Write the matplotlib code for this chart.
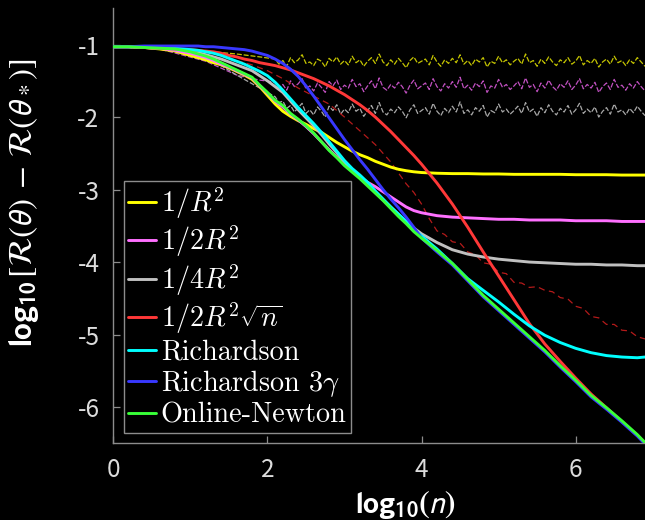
import numpy as np
import matplotlib
matplotlib.use("Agg")
import matplotlib.pyplot as plt
from matplotlib.font_manager import FontProperties

# ---------------- data ----------------
log_n = [0.0, 0.2, 0.4, 0.6, 0.8,
         1.0, 1.1, 1.2, 1.3, 1.4, 1.5, 1.6, 1.7, 1.8, 1.9,
         2.0, 2.1, 2.2, 2.3, 2.4, 2.5, 2.6, 2.7, 2.8, 2.9,
         3.0, 3.1, 3.2, 3.3, 3.4, 3.5, 3.6, 3.7, 3.8, 3.9,
         4.0, 4.2, 4.4, 4.6, 4.8, 5.0, 5.2, 5.4, 5.6, 5.8,
         6.0, 6.2, 6.4, 6.6, 6.8, 6.9]

y_inv_R2 = [-1.03, -1.03, -1.04, -1.06, -1.09,
            -1.15, -1.18, -1.21, -1.25, -1.28, -1.32, -1.37, -1.42, -1.48, -1.58,
            -1.70, -1.82, -1.92, -1.99, -2.05, -2.10, -2.16, -2.21, -2.28, -2.35,
            -2.41, -2.47, -2.52, -2.56, -2.61, -2.65, -2.69, -2.72, -2.74, -2.755,
            -2.765, -2.775, -2.78, -2.78, -2.785, -2.785, -2.79, -2.79, -2.79, -2.79,
            -2.795, -2.795, -2.795, -2.80, -2.80, -2.80]

y_half_R2 = [-1.03, -1.03, -1.04, -1.05, -1.08,
             -1.12, -1.15, -1.18, -1.22, -1.27, -1.31, -1.36, -1.41, -1.46, -1.57,
             -1.67, -1.78, -1.86, -1.96, -2.04, -2.13, -2.23, -2.34, -2.45, -2.55,
             -2.65, -2.74, -2.83, -2.90, -2.96, -3.03, -3.10, -3.17, -3.24, -3.29,
             -3.32, -3.36, -3.38, -3.39, -3.40, -3.41, -3.41, -3.42, -3.42, -3.42,
             -3.43, -3.43, -3.43, -3.44, -3.44, -3.44]

y_quarter_R2 = [-1.03, -1.03, -1.04, -1.05, -1.06,
                -1.09, -1.11, -1.14, -1.17, -1.20, -1.24, -1.28, -1.32, -1.36, -1.43,
                -1.50, -1.58, -1.66, -1.78, -1.90, -2.01, -2.12, -2.24, -2.37, -2.49,
                -2.62, -2.73, -2.83, -2.93, -3.04, -3.14, -3.24, -3.34, -3.44, -3.53,
                -3.61, -3.73, -3.83, -3.89, -3.93, -3.96, -3.98, -4.00, -4.01, -4.02,
                -4.03, -4.03, -4.04, -4.04, -4.05, -4.05]

y_half_R2_sqrt = [-1.03, -1.03, -1.04, -1.05, -1.06,
                  -1.07, -1.08, -1.09, -1.10, -1.12, -1.15, -1.17, -1.20, -1.22, -1.25,
                  -1.27, -1.29, -1.32, -1.35, -1.39, -1.43, -1.47, -1.52, -1.57, -1.63,
                  -1.69, -1.76, -1.83, -1.91, -2.00, -2.10, -2.20, -2.31, -2.42, -2.53,
                  -2.65, -2.91, -3.20, -3.52, -3.86, -4.19, -4.52, -4.85, -5.13, -5.37,
                  -5.60, -5.82, -6.01, -6.20, -6.39, -6.49]

y_richardson = [-1.03, -1.03, -1.03, -1.04, -1.05,
                -1.07, -1.08, -1.10, -1.12, -1.15, -1.19, -1.23, -1.27, -1.32, -1.37,
                -1.43, -1.52, -1.63, -1.75, -1.87, -1.98, -2.09, -2.21, -2.34, -2.47,
                -2.60, -2.71, -2.80, -2.90, -3.02, -3.13, -3.24, -3.34, -3.44, -3.55,
                -3.64, -3.82, -4.02, -4.23, -4.39, -4.55, -4.72, -4.88, -5.01, -5.11,
                -5.19, -5.25, -5.29, -5.31, -5.32, -5.31]

y_richardson_3g = [-1.03, -1.03, -1.02, -1.02, -1.02,
                   -1.02, -1.02, -1.03, -1.03, -1.04, -1.05, -1.06, -1.07, -1.09, -1.12,
                   -1.15, -1.20, -1.26, -1.34, -1.44, -1.57, -1.71, -1.86, -2.01, -2.16,
                   -2.31, -2.45, -2.59, -2.72, -2.86, -3.00, -3.13, -3.25, -3.38, -3.52,
                   -3.67, -3.86, -4.04, -4.26, -4.48, -4.67, -4.86, -5.05, -5.24, -5.45,
                   -5.65, -5.86, -6.03, -6.21, -6.40, -6.51]

y_online_newton = [-1.03, -1.03, -1.04, -1.05, -1.06,
                   -1.10, -1.13, -1.16, -1.20, -1.25, -1.30, -1.35, -1.40, -1.45, -1.56,
                   -1.66, -1.77, -1.84, -1.95, -2.03, -2.12, -2.22, -2.34, -2.46, -2.56,
                   -2.67, -2.76, -2.85, -2.95, -3.05, -3.15, -3.26, -3.37, -3.47, -3.58,
                   -3.67, -3.84, -4.02, -4.24, -4.46, -4.65, -4.84, -5.03, -5.22, -5.43,
                   -5.63, -5.84, -6.01, -6.19, -6.38, -6.49]

# noisy (non-averaged) traces
noisy_head_x = [0.0, 0.6, 1.2, 1.6, 1.9]
noisy_x = list(np.round(np.arange(2.10, 6.901, 0.05), 2))

noisy_inv_R2 = [-1.03, -1.05, -1.09, -1.13, -1.17,
    -1.20, -1.27, -1.22, -1.30, -1.18, -1.25, -1.21, -1.14, -1.26, -1.24,
    -1.29, -1.20, -1.23, -1.31, -1.19, -1.24, -1.17, -1.27, -1.22, -1.28,
    -1.16, -1.25, -1.21, -1.30, -1.23, -1.18, -1.26, -1.13, -1.24, -1.29,
    -1.21, -1.27, -1.19, -1.25, -1.32, -1.22, -1.17, -1.26, -1.23, -1.20,
    -1.28, -1.15, -1.24, -1.30, -1.21, -1.26, -1.19, -1.25, -1.14, -1.27,
    -1.22, -1.29, -1.20, -1.24, -1.18, -1.31, -1.23, -1.26, -1.16, -1.25,
    -1.21, -1.28, -1.23, -1.19, -1.27, -1.13, -1.25, -1.22, -1.30, -1.20,
    -1.26, -1.17, -1.24, -1.29, -1.21, -1.25, -1.18, -1.27, -1.23, -1.15,
    -1.28, -1.22, -1.26, -1.19, -1.31, -1.24, -1.20, -1.27, -1.16, -1.25,
    -1.22, -1.29, -1.21, -1.26, -1.18, -1.24, -1.30]

noisy_half_R2 = [-1.03, -1.06, -1.23, -1.42, -1.49,
    -1.52, -1.60, -1.55, -1.63, -1.50, -1.58, -1.54, -1.47, -1.61, -1.57,
    -1.64, -1.53, -1.59, -1.66, -1.51, -1.57, -1.49, -1.62, -1.56, -1.60,
    -1.48, -1.58, -1.54, -1.65, -1.57, -1.50, -1.61, -1.46, -1.59, -1.63,
    -1.55, -1.60, -1.52, -1.58, -1.67, -1.56, -1.49, -1.61, -1.57, -1.53,
    -1.62, -1.47, -1.58, -1.64, -1.54, -1.60, -1.51, -1.59, -1.45, -1.61,
    -1.56, -1.63, -1.53, -1.58, -1.50, -1.66, -1.57, -1.60, -1.48, -1.59,
    -1.55, -1.62, -1.57, -1.51, -1.61, -1.46, -1.59, -1.55, -1.65, -1.53,
    -1.60, -1.49, -1.58, -1.63, -1.54, -1.59, -1.50, -1.62, -1.56, -1.47,
    -1.61, -1.55, -1.60, -1.52, -1.66, -1.58, -1.53, -1.62, -1.48, -1.59,
    -1.56, -1.63, -1.54, -1.60, -1.51, -1.58, -1.64]

noisy_quarter_R2 = [-1.03, -1.06, -1.16, -1.42, -1.60,
    -1.72, -1.80, -1.78, -1.88, -1.84, -1.93, -1.87, -1.81, -1.95, -1.90,
    -1.97, -1.86, -1.92, -2.00, -1.85, -1.91, -1.83, -1.96, -1.89, -1.94,
    -1.82, -1.92, -1.88, -1.99, -1.91, -1.84, -1.95, -1.80, -1.93, -1.97,
    -1.89, -1.94, -1.86, -1.92, -2.01, -1.90, -1.83, -1.95, -1.91, -1.87,
    -1.96, -1.81, -1.92, -1.98, -1.88, -1.94, -1.85, -1.93, -1.79, -1.95,
    -1.90, -1.97, -1.87, -1.92, -1.84, -2.00, -1.91, -1.94, -1.82, -1.93,
    -1.89, -1.96, -1.91, -1.85, -1.95, -1.80, -1.93, -1.89, -1.99, -1.87,
    -1.94, -1.83, -1.92, -1.97, -1.88, -1.93, -1.84, -1.96, -1.90, -1.81,
    -1.95, -1.89, -1.94, -1.86, -2.00, -1.92, -1.87, -1.96, -1.82, -1.93,
    -1.90, -1.97, -1.88, -1.94, -1.85, -1.92, -1.98]

noisy_sqrt_x = [1.6, 1.8, 2.0, 2.2, 2.4, 2.6, 2.8, 3.0, 3.2, 3.4, 3.6, 3.8, 3.9,
                4.0, 4.1, 4.2, 4.3, 4.4, 4.5, 4.6, 4.7, 4.8, 4.9, 5.0, 5.1, 5.2,
                5.3, 5.4, 5.5, 5.6, 5.7, 5.8, 5.9, 6.0, 6.1, 6.2, 6.3, 6.4, 6.5,
                6.6, 6.7, 6.8, 6.9]
noisy_half_R2_sqrt = [-1.22, -1.28, -1.36, -1.47, -1.60, -1.71, -1.82, -2.00,
                      -2.19, -2.38, -2.62, -2.92, -3.04, -3.20, -3.40, -3.57,
                      -3.62, -3.72, -3.74, -3.86, -3.90, -4.01, -4.03, -4.14,
                      -4.16, -4.28, -4.29, -4.35, -4.34, -4.39, -4.41, -4.49,
                      -4.51, -4.61, -4.64, -4.75, -4.77, -4.86, -4.86, -4.94,
                      -4.95, -5.03, -5.06]

labels = [r'$1/R^2$', r'$1/2R^2$', r'$1/4R^2$', r'$1/2R^2\sqrt{n}$',
          'Richardson', r'Richardson $3\gamma$', 'Online-Newton']
colors = ['#ffff00', '#ff70ff', '#c0c0c0', '#ff3838', '#00ffff', '#3838ff', '#38ff38']
noisy_colors = ['#c4c400', '#c050c0', '#a8a8a8', '#b41a1a']

xticks = [0, 2, 4, 6]
xtick_labels = ['0', '2', '4', '6']
yticks = [-1, -2, -3, -4, -5, -6]
ytick_labels = ['-1', '-2', '-3', '-4', '-5', '-6']

# ---------------- figure ----------------
fig = plt.figure(figsize=(6.45, 5.2), dpi=100, facecolor='black')
ax = fig.add_axes([0.1757, 0.1475, 0.8243, 0.8365], facecolor='black')

series = [y_inv_R2, y_half_R2, y_quarter_R2, y_half_R2_sqrt,
          y_richardson, y_richardson_3g, y_online_newton]

nd = (0, (4, 1.5))
ax.plot(noisy_head_x + noisy_x, noisy_inv_R2, color=noisy_colors[0], lw=0.9, ls=nd, zorder=1)
ax.plot(noisy_head_x + noisy_x, noisy_half_R2, color=noisy_colors[1], lw=0.9, ls=nd, zorder=1)
ax.plot(noisy_head_x + noisy_x, noisy_quarter_R2, color=noisy_colors[2], lw=0.9, ls=nd, zorder=1)
ax.plot(noisy_sqrt_x, noisy_half_R2_sqrt, color=noisy_colors[3], lw=0.9,
        ls=(0, (5, 3.5)), zorder=1)

handles = []
for i, (ys, c, lab) in enumerate(zip(series, colors, labels)):
    h, = ax.plot(log_n, ys, color=c, lw=2.1, label=lab, zorder=2 + i,
                 solid_capstyle='round', solid_joinstyle='round')
    handles.append(h)

ax.set_xlim(0, 6.9)
ax.set_ylim(-6.5, -0.5)
ax.set_xticks(xticks, xtick_labels)
ax.set_yticks(yticks, ytick_labels)

for s in ['top', 'right']:
    ax.spines[s].set_visible(False)
for s in ['left', 'bottom']:
    ax.spines[s].set_color('#8c8c8c')
    ax.spines[s].set_linewidth(1.0)

tick_font = FontProperties(family='Noto Sans CJK JP', size=17.5)
ax.tick_params(direction='in', length=5, width=0.9, color='#8c8c8c',
               labelcolor='#dcdcdc', pad=10)
for lbl in ax.get_xticklabels() + ax.get_yticklabels():
    lbl.set_fontproperties(tick_font)

ax.set_xlabel(r'$\mathbf{log_{10}(}\boldsymbol{n}\mathbf{)}$', color='white',
              fontsize=23, math_fontfamily='stixsans')
ax.xaxis.set_label_coords((405 - 113.3) / 531.7, (443.3 - 489) / 435)
ax.set_ylabel(r'$\mathbf{log_{10}}\,[\mathcal{R}(\boldsymbol{\theta})\,-\,\mathcal{R}(\boldsymbol{\theta}_*)]$',
              color='white', fontsize=24, math_fontfamily='stixsans')
ax.yaxis.set_label_coords((41 - 113.3) / 531.7, (443.3 - 203) / 435)

leg_font = FontProperties(family='cmr10', size=20.3, math_fontfamily='cm')
leg = ax.legend(handles=handles, loc='lower left',
                bbox_to_anchor=((124 - 113.3) / 531.7, (443.3 - 432.7) / 435),
                borderaxespad=0, prop=leg_font, frameon=True, fancybox=False,
                facecolor='black', edgecolor='#8c8c8c', framealpha=1,
                handlelength=1.0, handletextpad=0.15, borderpad=0.15,
                labelspacing=0.1)
leg.get_frame().set_linewidth(1.0)
for t in leg.get_texts():
    t.set_color('white')

fig.savefig('out.png', dpi=100, facecolor='black')
